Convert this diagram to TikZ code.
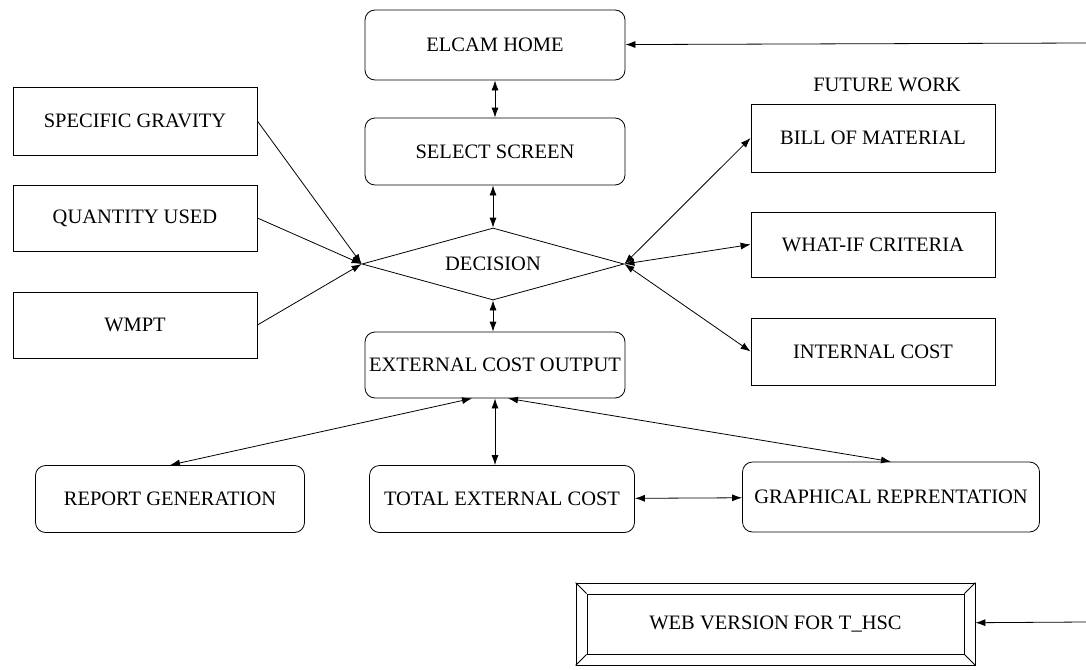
\documentclass[tikz,border=0pt]{standalone}
\usepackage{fontspec}
\setmainfont{Liberation Serif}
\usetikzlibrary{shapes.geometric,arrows.meta}
\newcommand{\boxfont}{\fontsize{20.5}{24}\selectfont}

\begin{document}
\begin{tikzpicture}[x=1pt, y=-1pt, line width=0.8pt, >={Latex[length=10pt,width=7pt]},
rbox/.style = {draw, rounded corners=10pt, minimum width=260pt, minimum height=67pt, inner sep=2pt, font=\boxfont},
sbox/.style = {draw, minimum width=244pt, minimum height=67pt, inner sep=2pt, font=\boxfont},
lbl/.style = {inner sep=2pt, font=\boxfont}
]
\useasboundingbox (0,0) rectangle (1086,669);
\node[rbox, minimum height=70pt] (home) at (495,45) {ELCAM HOME};
\node[rbox] (select) at (495,151.5) {SELECT SCREEN};
\node[draw, diamond, aspect=3.6, minimum width=262pt, minimum height=72pt, inner sep=0pt, font=\boxfont] (dec) at (493,264) {DECISION};
\node[rbox, minimum height=66pt] (extout) at (495,365) {EXTERNAL COST OUTPUT};
\node[sbox, minimum height=68pt] (sg) at (135,121) {SPECIFIC GRAVITY};
\node[sbox, minimum height=66pt] (qu) at (135,218) {QUANTITY USED};
\node[sbox, minimum height=66pt] (wm) at (135,325) {WMPT};
\node[lbl] (fw) at (887,85) {FUTURE WORK};
\node[sbox, minimum height=68pt] (bom) at (873,138) {BILL OF MATERIAL};
\node[sbox, minimum height=65pt] (wif) at (873,244.5) {WHAT-IF CRITERIA};
\node[sbox] (ic) at (873,351.5) {INTERNAL COST};
\node[rbox, minimum width=269pt] (rep) at (170,499) {REPORT GENERATION};
\node[rbox, minimum width=265pt] (tot) at (502,499) {TOTAL EXTERNAL COST};
\node[rbox, minimum width=297pt, minimum height=70pt] (gra) at (891,497) {GRAPHICAL REPRENTATION};
\node[draw, minimum width=399pt, minimum height=82pt] (web) at (775.5,624) {};
\node[draw, minimum width=377pt, minimum height=60pt, font=\boxfont] (webtxt) at (775.5,624) {WEB VERSION FOR T\_HSC};
\foreach \a in {north west, north east, south west, south east}{\draw (web.\a) -- (webtxt.\a);}
\coordinate (homesrc) at (1086,43);
\coordinate (websrc) at (1086,622);
\draw[<->] (home) -- (select);
\draw[<->] (dec.north |- select.south) -- (dec.north);
\draw[<->] (dec.south) -- (dec.south |- extout.north);
\draw[<->] (extout.south) -- (extout.south |- tot.north);
\foreach \i in {sg, qu, wm}{\draw[->] (\i.east) -- (dec.west);}
\foreach \j in {bom, wif, ic}{\draw[<->] (dec.east) -- (\j.west);}
\draw[<->] ([xshift=-23pt]extout.south) -- (rep.north);
\draw[<->] ([xshift=13pt]extout.south) -- (gra.north);
\draw[<->] (tot) -- (gra);
\draw[->] (homesrc) -- (home);
\draw[->] (websrc) -- (web);
\end{tikzpicture}
\end{document}
